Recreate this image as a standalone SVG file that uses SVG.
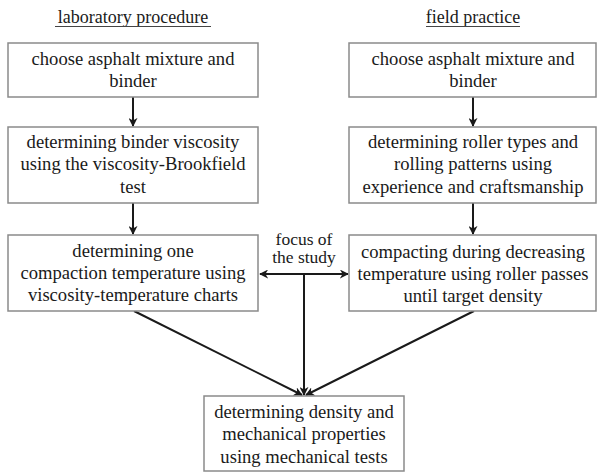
<svg xmlns="http://www.w3.org/2000/svg" width="597" height="472" viewBox="0 0 597 472">
<style>
.box{fill:#fff;stroke:#8a8a8a;stroke-width:1.5}
.ln{stroke:#1a1a1a;stroke-width:2;fill:none}
</style>
<defs>
<marker id="ah2" viewBox="0 0 10 10" refX="9" refY="5" markerWidth="9" markerHeight="9" orient="auto-start-reverse" markerUnits="userSpaceOnUse">
<path d="M0,0 L10,5 L0,10 L3,5 z" fill="#1a1a1a"/>
</marker>
</defs>
<rect width="597" height="472" fill="#fff"/>
<g font-family="Liberation Serif, Times New Roman, serif" font-size="18.6" fill="#1a1a1a" text-anchor="middle">
<g id="title-lab"><text x="133" y="23" font-size="18">laboratory procedure</text><line x1="55" y1="26.5" x2="211" y2="26.5" stroke="#444" stroke-width="1"/></g>
<g id="title-field"><text x="473" y="23" font-size="18">field practice</text><line x1="426" y1="26.5" x2="520" y2="26.5" stroke="#444" stroke-width="1"/></g>
<g id="connectors">
<line class="ln" x1="133" y1="97" x2="133" y2="126" marker-end="url(#ah2)"/>
<line class="ln" x1="133" y1="203" x2="133" y2="234" marker-end="url(#ah2)"/>
<line class="ln" x1="473" y1="97" x2="473" y2="126" marker-end="url(#ah2)"/>
<line class="ln" x1="473" y1="203" x2="473" y2="234" marker-end="url(#ah2)"/>
<line class="ln" x1="260" y1="274" x2="348" y2="274" marker-start="url(#ah2)" marker-end="url(#ah2)"/>
<line class="ln" x1="304" y1="274" x2="304" y2="395" marker-end="url(#ah2)"/>
<line class="ln" x1="134" y1="311" x2="302" y2="395" marker-end="url(#ah2)"/>
<line class="ln" x1="474" y1="311" x2="306" y2="395" marker-end="url(#ah2)"/>
</g>
<g id="focus" font-size="17.5"><text x="304" y="245">focus of</text><text x="304" y="263">the study</text></g>
<g id="lab1"><rect class="box" x="8" y="43" width="250" height="54"/><text x="133" y="65">choose asphalt mixture and</text><text x="133" y="87">binder</text></g>
<g id="lab2"><rect class="box" x="8" y="127" width="250" height="76"/><text x="133" y="148">determining binder viscosity</text><text x="133" y="170">using the viscosity-Brookfield</text><text x="133" y="193">test</text></g>
<g id="lab3"><rect class="box" x="8" y="235" width="250" height="76"/><text x="133" y="257">determining one</text><text x="133" y="279">compaction temperature using</text><text x="133" y="301">viscosity-temperature charts</text></g>
<g id="field1"><rect class="box" x="349" y="43" width="247" height="54"/><text x="473" y="65">choose asphalt mixture and</text><text x="473" y="87">binder</text></g>
<g id="field2"><rect class="box" x="349" y="127" width="247" height="76"/><text x="473" y="148">determining roller types and</text><text x="473" y="170">rolling patterns using</text><text x="473" y="193">experience and craftsmanship</text></g>
<g id="field3"><rect class="box" x="349" y="235" width="247" height="76"/><text x="473" y="258">compacting during decreasing</text><text x="473" y="280">temperature using roller passes</text><text x="473" y="302">until target density</text></g>
<g id="result"><rect class="box" x="204" y="396" width="200" height="75"/><text x="304" y="418">determining density and</text><text x="304" y="440">mechanical properties</text><text x="304" y="463">using mechanical tests</text></g>
</g>
</svg>
